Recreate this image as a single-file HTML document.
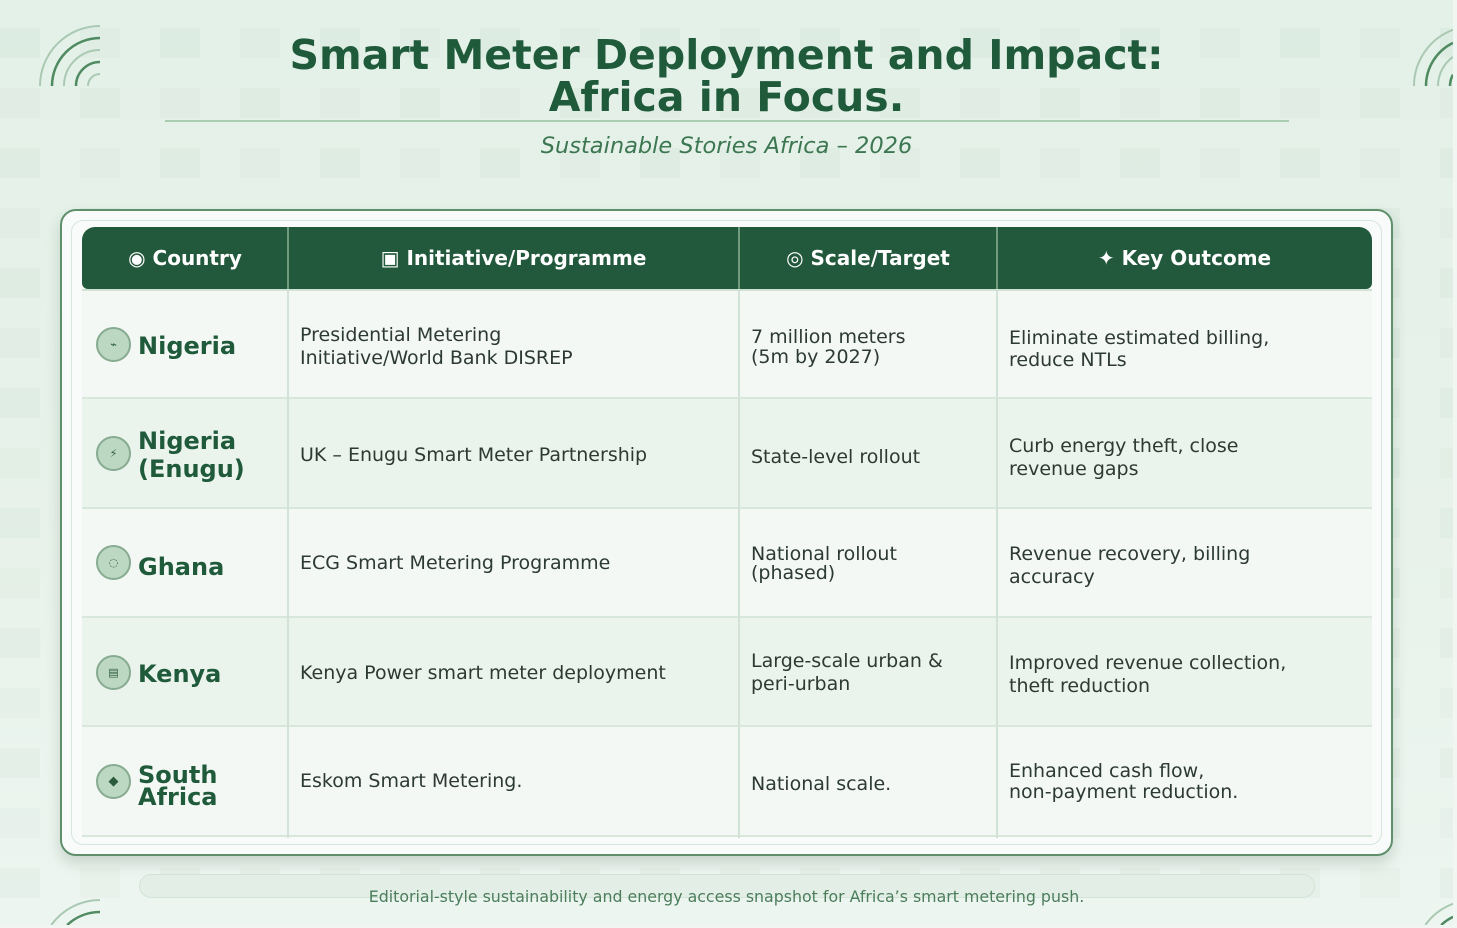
<!DOCTYPE html>
<html><head><meta charset="utf-8">
<style>
*{margin:0;padding:0;box-sizing:border-box}
html,body{width:1457px;height:928px;overflow:hidden;background:#f1f6f3}
body{font-family:"DejaVu Sans","Liberation Sans",sans-serif;position:relative}
.abs{position:absolute}
.title{left:0;width:1453px;top:34px;text-align:center;font-weight:bold;font-size:41px;line-height:42px;color:#1f5a3b}
.rule{left:165px;top:120px;width:1124px;height:2px;background:#a9ccb3}
.sub{left:0;width:1453px;top:135px;text-align:center;font-style:italic;font-size:22.5px;line-height:22px;color:#3d7752}
.card{left:60px;top:209px;width:1333px;height:647px;border:2px solid #5f8f6b;border-radius:16px;background:#f9fbfa;box-shadow:0 7px 14px rgba(30,70,45,0.18)}
.inner{left:71px;top:220px;width:1311px;height:625px;border:1.5px solid #d5e6da;border-radius:12px}
.hdr{top:227px;height:62px;background:#22583b;color:#fff;font-weight:bold;font-size:20px;display:flex;align-items:center;justify-content:center;white-space:nowrap}
.row{left:82px;width:1290px;border-bottom:2px solid #d8e7dc}
.vl{width:2px;background:#d3e2d7}
.cell{font-size:19px;color:#2c3a33;white-space:nowrap}
.cn{font-size:24px;font-weight:bold;color:#1f5a3b;white-space:nowrap}
.ic{left:96px;width:35px;height:35px;border-radius:50%;background:#bcd7c2;border:2px solid #86ab90;display:flex;align-items:center;justify-content:center;color:#2c5b3c;font-size:11px}
.pill{left:139px;top:874px;width:1176px;height:24px;border-radius:12px;background:#e3efe6;border:1px solid #d2e3d7}
.foot{left:0;width:1453px;top:889px;text-align:center;font-size:15.8px;line-height:15px;color:#4b7d5b}
</style></head><body>

<svg class="abs" style="left:0;top:0" width="1453" height="925" viewBox="0 0 1453 925">
 <defs>
  <linearGradient id="bgg" x1="0" y1="0" x2="0" y2="1">
   <stop offset="0" stop-color="#e4f1e8"/>
   <stop offset="0.5" stop-color="#e7f2ea"/>
   <stop offset="1" stop-color="#edf5f0"/>
  </linearGradient>
  <pattern id="sqp" x="0" y="28" width="160" height="120" patternUnits="userSpaceOnUse">
   <rect x="0" y="0" width="40" height="30" fill="rgba(40,100,60,0.035)"/>
   <rect x="80" y="0" width="40" height="30" fill="rgba(40,100,60,0.025)"/>
   <rect x="0" y="60" width="40" height="30" fill="rgba(40,100,60,0.025)"/>
   <rect x="80" y="60" width="40" height="30" fill="rgba(40,100,60,0.035)"/>
  </pattern>
 </defs>
 <rect x="0" y="0" width="1453" height="925" fill="url(#bgg)"/>
 <rect x="0" y="0" width="1453" height="925" fill="url(#sqp)"/>
 <g fill="none">
  <path d="M40 86 A60 60 0 0 1 100 26" stroke="#aac9b3" stroke-width="2"/>
  <path d="M52 86 A48 48 0 0 1 100 38" stroke="#4f8a61" stroke-width="2.5"/>
  <path d="M64 86 A36 36 0 0 1 100 50" stroke="#aac9b3" stroke-width="2"/>
  <path d="M76 86 A24 24 0 0 1 100 62" stroke="#4f8a61" stroke-width="2.5"/>
  <path d="M88 86 A12 12 0 0 1 100 74" stroke="#aac9b3" stroke-width="2"/>

  <path d="M1414 86 A60 60 0 0 1 1453 29.8" stroke="#aac9b3" stroke-width="2"/>
  <path d="M1426 86 A48 48 0 0 1 1453 42.84" stroke="#4f8a61" stroke-width="2.5"/>
  <path d="M1438 86 A36 36 0 0 1 1453 56.83" stroke="#aac9b3" stroke-width="2"/>
  <path d="M1450 86 A24 24 0 0 1 1453 74.6" stroke="#4f8a61" stroke-width="2.5"/>

  <path d="M51.27 925 A60 60 0 0 1 100 900" stroke="#aac9b3" stroke-width="2"/>
  <path d="M67.15 925 A48 48 0 0 1 100 912" stroke="#4f8a61" stroke-width="2.5"/>

  <path d="M1425.27 925 A60 60 0 0 1 1453 903.8" stroke="#aac9b3" stroke-width="2"/>
  <path d="M1441.15 925 A48 48 0 0 1 1453 916.84" stroke="#4f8a61" stroke-width="2.5"/>
 </g>
</svg>

<div class="abs title">Smart Meter Deployment and Impact:<br>Africa in Focus.</div>
<div class="abs rule"></div>
<div class="abs sub">Sustainable Stories Africa – 2026</div>

<div class="abs card"></div>
<div class="abs inner"></div>

<div class="abs row" style="top:289px;height:110px;background:#f3f8f4"></div>
<div class="abs row" style="top:399px;height:110px;background:#eaf3ec"></div>
<div class="abs row" style="top:509px;height:109px;background:#f3f8f4"></div>
<div class="abs row" style="top:618px;height:109px;background:#eaf3ec"></div>
<div class="abs row" style="top:727px;height:110px;background:#f3f8f4"></div>

<div class="abs vl" style="left:287px;top:289px;height:549px"></div>
<div class="abs vl" style="left:738px;top:289px;height:549px"></div>
<div class="abs vl" style="left:996px;top:289px;height:549px"></div>

<div class="abs hdr" style="left:82px;width:206px;border-radius:13px 0 0 6px">◉ Country</div>
<div class="abs hdr" style="left:288px;width:451px">▣ Initiative/Programme</div>
<div class="abs hdr" style="left:739px;width:258px">◎ Scale/Target</div>
<div class="abs hdr" style="left:997px;width:375px;border-radius:0 13px 6px 0">✦ Key Outcome</div>
<div class="abs" style="left:287px;top:227px;width:2px;height:62px;background:#6f9c7d"></div>
<div class="abs" style="left:738px;top:227px;width:2px;height:62px;background:#6f9c7d"></div>
<div class="abs" style="left:996px;top:227px;width:2px;height:62px;background:#6f9c7d"></div>
<div class="abs" style="left:82px;top:289px;width:1290px;height:2px;background:#cfe2d4"></div>

<div class="abs ic" style="top:327px">⌁</div>
<div class="abs ic" style="top:436px">⚡</div>
<div class="abs ic" style="top:545px">◌</div>
<div class="abs ic" style="top:655px">▤</div>
<div class="abs ic" style="top:764px;font-size:13px">◆</div>

<div class="abs cn" style="left:138px;top:334px;line-height:24px">Nigeria</div>
<div class="abs cn" style="left:138px;top:428px;line-height:27.5px">Nigeria<br>(Enugu)</div>
<div class="abs cn" style="left:138px;top:554.5px;line-height:24px">Ghana</div>
<div class="abs cn" style="left:138px;top:662px;line-height:24px">Kenya</div>
<div class="abs cn" style="left:138px;top:764px;line-height:22px">South<br>Africa</div>

<div class="abs cell" style="left:300px;top:324px;line-height:23px">Presidential Metering<br>Initiative/World Bank DISREP</div>
<div class="abs cell" style="left:300px;top:444px;line-height:23px">UK – Enugu Smart Meter Partnership</div>
<div class="abs cell" style="left:300px;top:552px;line-height:23px">ECG Smart Metering Programme</div>
<div class="abs cell" style="left:300px;top:662px;line-height:23px">Kenya Power smart meter deployment</div>
<div class="abs cell" style="left:300px;top:770px;line-height:23px">Eskom Smart Metering.</div>

<div class="abs cell" style="left:751px;top:327px;line-height:20px">7 million meters<br>(5m by 2027)</div>
<div class="abs cell" style="left:751px;top:446px;line-height:23px">State-level rollout</div>
<div class="abs cell" style="left:751px;top:544.5px;line-height:19.5px">National rollout<br>(phased)</div>
<div class="abs cell" style="left:751px;top:650px;line-height:23px">Large-scale urban &amp;<br>peri-urban</div>
<div class="abs cell" style="left:751px;top:773px;line-height:23px">National scale.</div>

<div class="abs cell" style="left:1009px;top:327px;line-height:22px">Eliminate estimated billing,<br>reduce NTLs</div>
<div class="abs cell" style="left:1009px;top:435px;line-height:22.5px">Curb energy theft, close<br>revenue gaps</div>
<div class="abs cell" style="left:1009px;top:543px;line-height:23px">Revenue recovery, billing<br>accuracy</div>
<div class="abs cell" style="left:1009px;top:652px;line-height:23px">Improved revenue collection,<br>theft reduction</div>
<div class="abs cell" style="left:1009px;top:761px;line-height:21px">Enhanced cash flow,<br>non-payment reduction.</div>

<div class="abs pill"></div>
<div class="abs foot">Editorial-style sustainability and energy access snapshot for Africa’s smart metering push.</div>
</body></html>
